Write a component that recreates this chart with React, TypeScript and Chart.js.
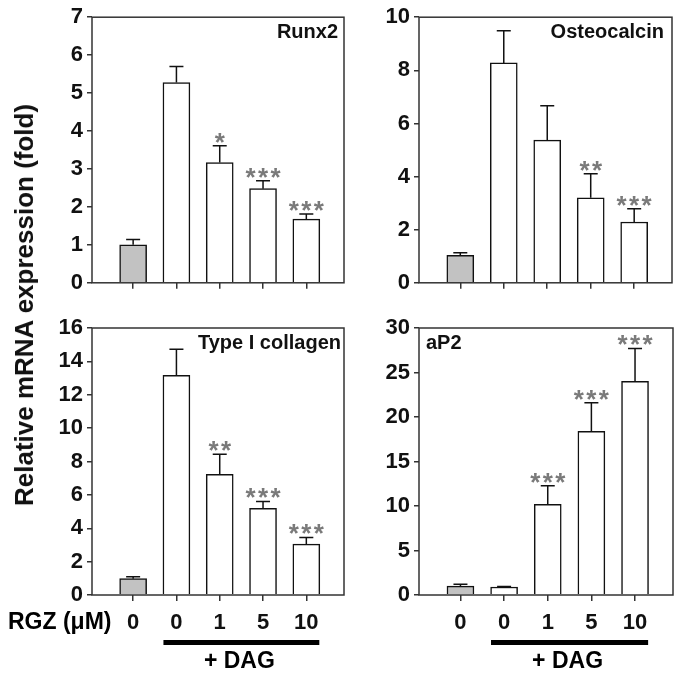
import React, { useEffect, useRef } from 'react';
import { Chart, registerables } from 'chart.js';

Chart.register(...registerables);

const FONT = '"Liberation Sans", Arial, Helvetica, sans-serif';

// RGZ dose categories (first = control without DAG, rest = + DAG)
const rgzDoses = ['0', '0', '1', '5', '10'];

const runx2Values = [1.0, 5.28, 3.17, 2.48, 1.68];
const runx2Errors = [0.14, 0.42, 0.44, 0.21, 0.13];
const runx2Stars = ['', '', '*', '***', '***'];

const osteocalcinValues = [1.03, 8.28, 5.37, 3.2, 2.29];
const osteocalcinErrors = [0.1, 1.21, 1.3, 0.91, 0.5];
const osteocalcinStars = ['', '', '', '**', '***'];

const collagenValues = [0.98, 13.17, 7.23, 5.19, 3.05];
const collagenErrors = [0.12, 1.56, 1.21, 0.42, 0.4];
const collagenStars = ['', '', '**', '***', '***'];

const ap2Values = [1.0, 0.9, 10.2, 18.4, 24.0];
const ap2Errors = [0.2, 0.05, 2.07, 3.2, 3.7];
const ap2Stars = ['', '', '***', '***', '***'];

type PanelProps = {
  title: string;
  titleAlign: 'left' | 'right';
  titleInset: number;
  values: number[];
  errors: number[];
  stars: string[];
  yMax: number;
  yStep: number;
  left: number;
  top: number;
  width: number;
  height: number;
  area: { left: number; top: number; right: number; bottom: number };
  showX: boolean;
  showRgz: boolean;
};

function Panel(p: PanelProps) {
  const ref = useRef<HTMLCanvasElement | null>(null);
  useEffect(() => {
    if (!ref.current) return;
    const yAxisWidth = p.area.left;
    const xAxisHeight = p.height - p.area.bottom;
    const overlay = {
      id: 'overlay',
      afterDatasetsDraw(chart: any) {
        const ctx = chart.ctx as CanvasRenderingContext2D;
        const xs = chart.scales.x;
        const ys = chart.scales.y;
        const ca = chart.chartArea;
        ctx.save();
        // error bars
        ctx.strokeStyle = '#111';
        ctx.lineWidth = 1.5;
        p.values.forEach((v, i) => {
          const x = xs.getPixelForValue(i);
          const yb = ys.getPixelForValue(v);
          const yt = ys.getPixelForValue(v + p.errors[i]);
          ctx.beginPath();
          ctx.moveTo(x, yb);
          ctx.lineTo(x, yt);
          ctx.moveTo(x - 7, yt);
          ctx.lineTo(x + 7, yt);
          ctx.stroke();
          const s = p.stars[i];
          if (s) {
            ctx.fillStyle = '#7a7a7a';
            ctx.font = `bold 26px ${FONT}`;
            ctx.textAlign = 'center';
            ctx.textBaseline = 'alphabetic';
            const n = s.length;
            const cy = yt - 11;
            for (let k = 0; k < n; k++) {
              const sx = x + (k - (n - 1) / 2) * 12.5;
              ctx.fillText('*', sx, cy + 16);
            }
          }
        });
        // frame
        ctx.strokeStyle = '#333';
        ctx.lineWidth = 1.5;
        ctx.strokeRect(ca.left, ca.top, ca.right - ca.left, ca.bottom - ca.top);
        // title
        ctx.fillStyle = '#111';
        ctx.font = `bold 20px ${FONT}`;
        ctx.textBaseline = 'alphabetic';
        if (p.titleAlign === 'right') {
          ctx.textAlign = 'right';
          ctx.fillText(p.title, ca.right - p.titleInset, ca.top + 21);
        } else {
          ctx.textAlign = 'left';
          ctx.fillText(p.title, ca.left + p.titleInset, ca.top + 21);
        }
        if (p.showX) {
          // + DAG bar
          const x0 = xs.getPixelForValue(0.7);
          const x1 = xs.getPixelForValue(4.3);
          ctx.fillStyle = '#000';
          ctx.fillRect(x0, ca.bottom + 45, x1 - x0, 5);
          ctx.font = `bold 23px ${FONT}`;
          ctx.textAlign = 'center';
          ctx.textBaseline = 'middle';
          ctx.fillText('+ DAG', (x0 + x1) / 2 - 2, ca.bottom + 67);
          if (p.showRgz) {
            ctx.textAlign = 'right';
            ctx.fillText('RGZ (\u03bcM)', xs.getPixelForValue(-0.5), ca.bottom + 28);
          }
        }
        ctx.restore();
      },
    };
    const chart = new Chart(ref.current, {
      type: 'bar',
      data: {
        datasets: [
          {
            data: p.values.map((v, i) => ({ x: i, y: v })),
            backgroundColor: p.values.map((_, i) => (i === 0 ? '#c2c2c2' : '#ffffff')),
            borderColor: '#111',
            borderWidth: 1.5,
            borderSkipped: 'bottom',
            barThickness: 27,
          },
        ],
      },
      options: {
        animation: false,
        responsive: false,
        devicePixelRatio: 1,
        layout: {
          padding: { left: 0, top: p.area.top, right: p.width - p.area.right, bottom: 0 },
        },
        plugins: { legend: { display: false }, tooltip: { enabled: false }, title: { display: false } },
        scales: {
          x: {
            type: 'linear',
            offset: false,
            min: -0.95,
            max: 4.87,
            afterBuildTicks: (s: any) => {
              s.ticks = rgzDoses.map((_, i) => ({ value: i }));
            },
            afterFit: (s: any) => {
              s.height = xAxisHeight;
            },
            border: { display: false },
            grid: { offset: false, drawOnChartArea: false, drawTicks: true, tickLength: 6, color: '#333', lineWidth: 1.5 },
            ticks: {
              display: p.showX,
              autoSkip: false,
              maxRotation: 0,
              padding: 9,
              color: '#111',
              font: { family: FONT, size: 22, weight: 'bold' },
              callback: (_v: any, idx: number) => rgzDoses[idx],
            },
          },
          y: {
            type: 'linear',
            min: 0,
            max: p.yMax,
            afterFit: (s: any) => {
              s.width = yAxisWidth;
            },
            border: { display: false },
            grid: { drawOnChartArea: false, drawTicks: true, tickLength: 5, color: '#333', lineWidth: 1.5 },
            ticks: {
              stepSize: p.yStep,
              padding: 4,
              color: '#111',
              font: { family: FONT, size: 22, weight: 'bold' },
            },
          },
        },
      },
      plugins: [overlay],
    } as any);
    return () => chart.destroy();
  }, []);
  return (
    <canvas
      ref={ref}
      width={p.width}
      height={p.height}
      style={{ position: 'absolute', left: p.left, top: p.top, width: p.width, height: p.height, display: 'block' }}
    />
  );
}

export default function App() {
  return (
    <div style={{ position: 'absolute', left: 0, top: 0, width: 679, height: 675, background: '#fff', overflow: 'hidden' }}>
      <Panel
        title="Runx2" titleAlign="right" titleInset={6}
        values={runx2Values} errors={runx2Errors} stars={runx2Stars}
        yMax={7} yStep={1}
        left={0} top={0} width={350} height={300}
        area={{ left: 92, top: 16, right: 344, bottom: 284 }}
        showX={false} showRgz={false}
      />
      <Panel
        title="Osteocalcin" titleAlign="right" titleInset={8}
        values={osteocalcinValues} errors={osteocalcinErrors} stars={osteocalcinStars}
        yMax={10} yStep={2}
        left={350} top={0} width={329} height={300}
        area={{ left: 69, top: 16, right: 322, bottom: 284 }}
        showX={false} showRgz={false}
      />
      <Panel
        title="Type I collagen" titleAlign="right" titleInset={3}
        values={collagenValues} errors={collagenErrors} stars={collagenStars}
        yMax={16} yStep={2}
        left={0} top={300} width={350} height={375}
        area={{ left: 92, top: 28, right: 344, bottom: 295 }}
        showX={true} showRgz={true}
      />
      <Panel
        title="aP2" titleAlign="left" titleInset={7}
        values={ap2Values} errors={ap2Errors} stars={ap2Stars}
        yMax={30} yStep={5}
        left={350} top={300} width={329} height={375}
        area={{ left: 69, top: 28, right: 323, bottom: 295 }}
        showX={true} showRgz={false}
      />
      <div
        style={{
          position: 'absolute',
          left: 24,
          top: 305,
          transform: 'translate(-50%, -50%) rotate(-90deg)',
          whiteSpace: 'nowrap',
          fontFamily: FONT,
          fontWeight: 'bold',
          fontSize: 26,
          color: '#111',
          lineHeight: 1,
        }}
      >
        Relative mRNA expression (fold)
      </div>
    </div>
  );
}
